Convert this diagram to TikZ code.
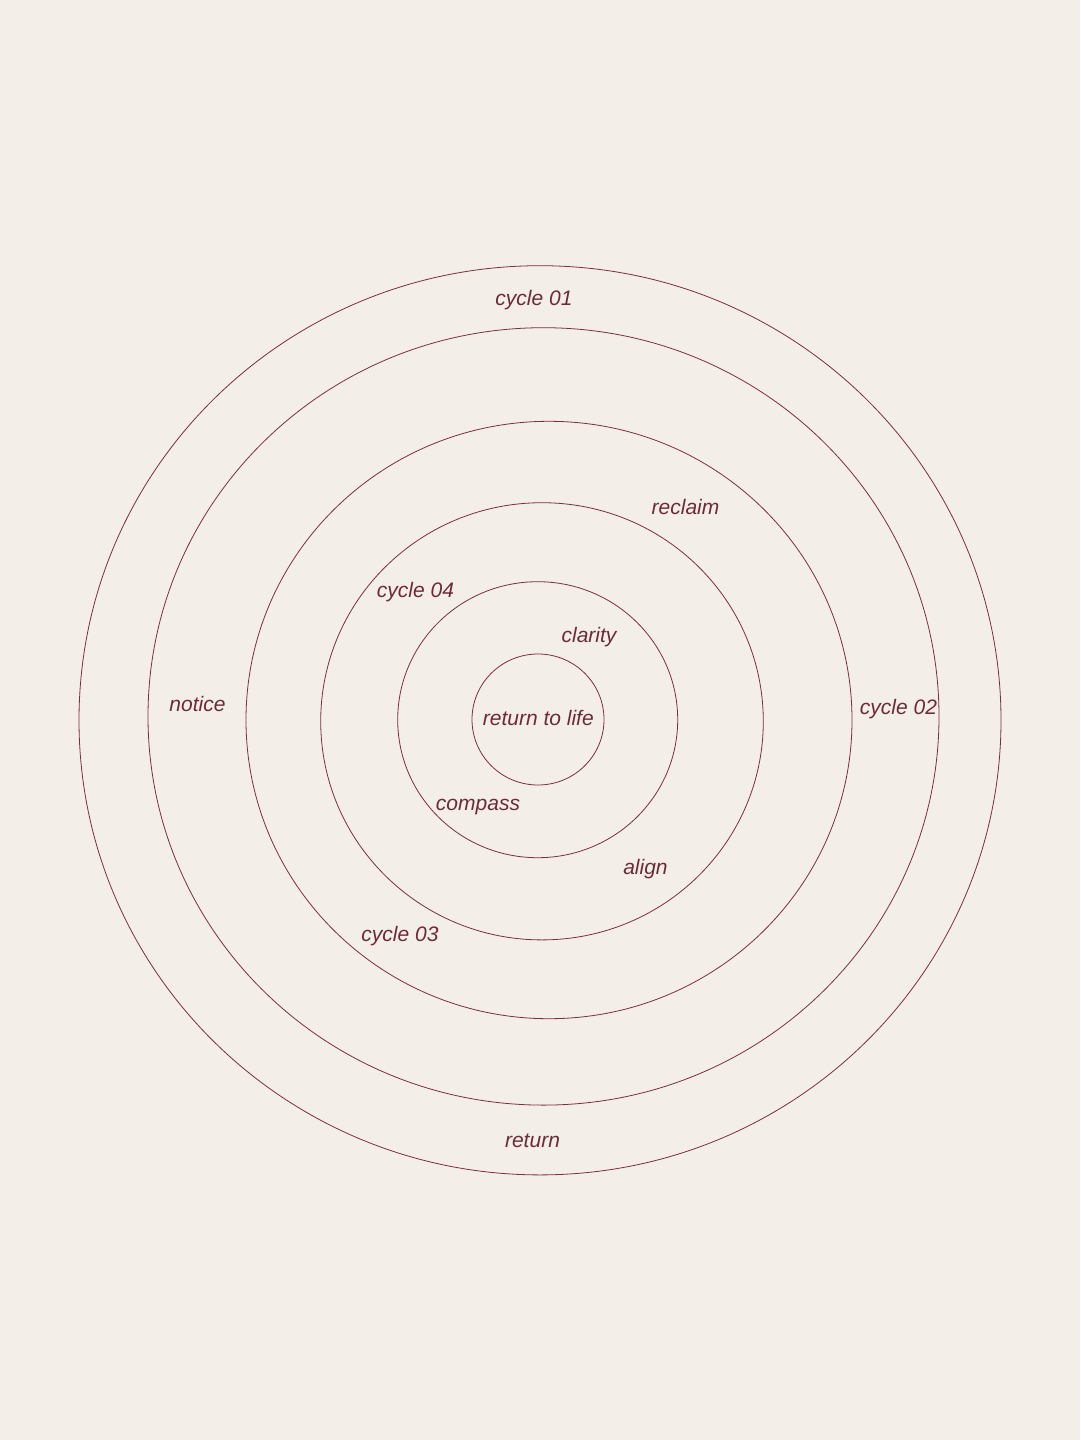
\documentclass[tikz,border=0pt]{standalone}
\usepackage{fontspec}
\setmainfont{Liberation Sans}
\definecolor{paper}{HTML}{F3EFE8}
\definecolor{ink}{HTML}{7A2D40}
\definecolor{txt}{HTML}{6E2A3A}
\begin{document}
\begin{tikzpicture}[x=1pt,y=-1pt,
  ring/.style={draw=ink,line width=0.8pt},
  lbl/.style={text=txt,font=\fontsize{21}{25}\selectfont\itshape,inner sep=0pt,anchor=base,yshift=-7.5pt}]
\fill[paper] (0,0) rectangle (1080,1440);
\useasboundingbox (0,0) rectangle (1080,1440);
\draw[ring] (540,720.3) ellipse [x radius=461, y radius=454.6];
\draw[ring] (543.5,716.4) ellipse [x radius=395.5, y radius=388.7];
\draw[ring] (549,720) ellipse [x radius=303, y radius=298.7];
\draw[ring] (542,721.3) ellipse [x radius=221.3, y radius=218.6];
\draw[ring] (537.7,719.7) ellipse [x radius=140, y radius=138];
\draw[ring] (538,719.5) ellipse [x radius=66, y radius=65.5];
\node[lbl] (c01) at (534,298) {cycle 01};
\node[lbl] (reclaim) at (685.5,507) {reclaim};
\node[lbl] (c04) at (415.5,590) {cycle 04};
\node[lbl] (clarity) at (589,635) {clarity};
\node[lbl] (notice) at (197.5,704) {notice};
\node[lbl] (life) at (538.3,718) {return to life};
\node[lbl] (c02) at (898.5,707) {cycle 02};
\node[lbl] (compass) at (478,802.7) {compass};
\node[lbl] (align) at (645.5,867) {align};
\node[lbl] (c03) at (400,934) {cycle 03};
\node[lbl] (ret) at (532.5,1140) {return};
\end{tikzpicture}
\end{document}
